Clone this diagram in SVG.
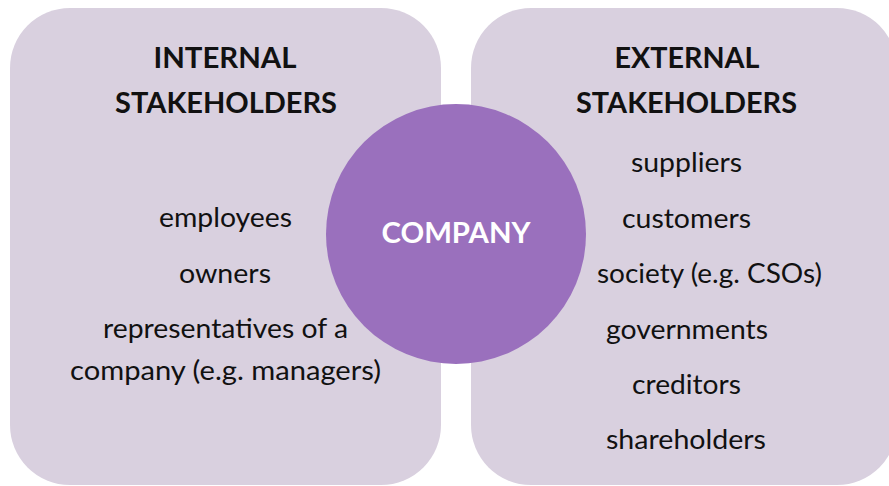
<svg xmlns="http://www.w3.org/2000/svg" width="889" height="486" viewBox="0 0 889 486">
<style>
.panel{fill:#d9d0df}
.t{font-family:Lato,"Open Sans","Liberation Sans",sans-serif;font-size:27px;fill:#111;text-anchor:middle}
.h{font-family:Lato,"Open Sans","Liberation Sans",sans-serif;font-size:29px;font-weight:bold;fill:#111;text-anchor:middle}
.c{font-family:Lato,"Open Sans","Liberation Sans",sans-serif;font-size:29px;font-weight:bold;fill:#fff;text-anchor:middle}
</style>
<rect width="889" height="486" fill="#fff"/>
<g id="internal">
<rect class="panel" x="10" y="8" width="431" height="477" rx="60" ry="60"/>
<text class="h" x="225" y="68" textLength="143" lengthAdjust="spacingAndGlyphs">INTERNAL</text>
<text class="h" x="226" y="113" textLength="222" lengthAdjust="spacingAndGlyphs">STAKEHOLDERS</text>
<text class="t" x="225.5" y="227" textLength="133" lengthAdjust="spacingAndGlyphs">employees</text>
<text class="t" x="225" y="283" textLength="92" lengthAdjust="spacingAndGlyphs">owners</text>
<text class="t" x="225.5" y="338" textLength="245" lengthAdjust="spacingAndGlyphs">representatives of a</text>
<text class="t" x="225.5" y="380" textLength="311" lengthAdjust="spacingAndGlyphs">company (e.g. managers)</text>
</g>
<g id="external">
<rect class="panel" x="471" y="8" width="426" height="477" rx="60" ry="60"/>
<text class="h" x="687" y="68" textLength="145" lengthAdjust="spacingAndGlyphs">EXTERNAL</text>
<text class="h" x="686.5" y="113" textLength="221" lengthAdjust="spacingAndGlyphs">STAKEHOLDERS</text>
<text class="t" x="686.5" y="172" textLength="111" lengthAdjust="spacingAndGlyphs">suppliers</text>
<text class="t" x="686.5" y="228" textLength="129" lengthAdjust="spacingAndGlyphs">customers</text>
<text class="t" x="709.5" y="283" textLength="225" lengthAdjust="spacingAndGlyphs">society (e.g. CSOs)</text>
<text class="t" x="687" y="339" textLength="162" lengthAdjust="spacingAndGlyphs">governments</text>
<text class="t" x="686.5" y="394" textLength="109" lengthAdjust="spacingAndGlyphs">creditors</text>
<text class="t" x="686" y="449" textLength="160" lengthAdjust="spacingAndGlyphs">shareholders</text>
</g>
<g id="company">
<circle cx="456" cy="234" r="130" fill="#9a70bd"/>
<text class="c" x="456" y="243" textLength="149" lengthAdjust="spacingAndGlyphs">COMPANY</text>
</g>
<g id="connectors"/>
</svg>
